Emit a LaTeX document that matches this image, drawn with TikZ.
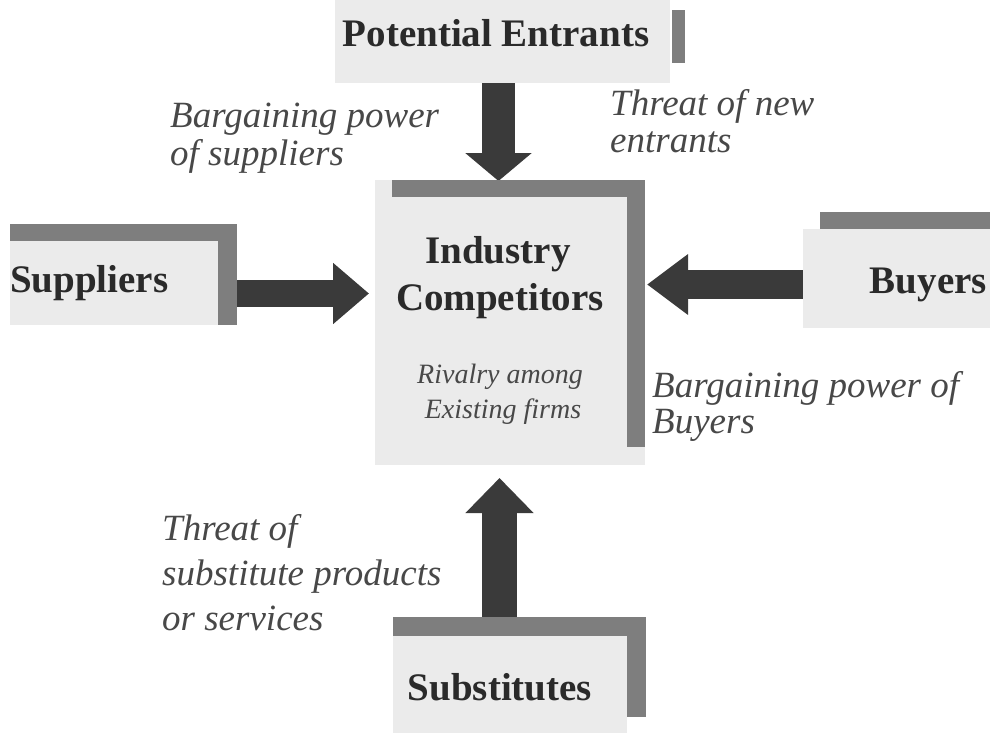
\documentclass[tikz,border=0pt]{standalone}
\usepackage{fontspec}
\setmainfont{Liberation Serif}
\usetikzlibrary{arrows.meta}
\definecolor{boxfill}{HTML}{EBEBEB}
\definecolor{barcol}{HTML}{7E7E7E}
\definecolor{arrcol}{HTML}{3A3A3A}
\definecolor{boldcol}{HTML}{2A2A2A}
\definecolor{labcol}{HTML}{484848}
\tikzset{
  box/.style={fill=boxfill, draw=none, inner sep=0pt},
  bar/.style={fill=barcol, draw=none},
  fatarrow/.style={draw=arrcol, fill=arrcol, line cap=butt},
  boldtxt/.style={font=\fontsize{39pt}{44pt}\selectfont\bfseries, text=boldcol, inner sep=0pt, anchor=base},
  subtxt/.style={font=\fontsize{28pt}{33pt}\selectfont\itshape, text=labcol, inner sep=0pt, anchor=base},
  lab/.style={font=\fontsize{37pt}{#1}\selectfont\itshape, text=labcol, inner sep=0pt, align=left, anchor=base west},
  lab/.default=37pt
}
\begin{document}
\begin{tikzpicture}[x=1pt,y=-1pt]
\useasboundingbox (0,0) rectangle (990,733);
\fill[white] (0,0) rectangle (990,733);

% boxes
\node[box, minimum width=335pt, minimum height=83pt] (pe) at (502.5,41.5) {};
\node[box, minimum width=270pt, minimum height=285pt] (ic) at (510,322.5) {};
\node[box, minimum width=227pt, minimum height=101pt] (sup) at (123.5,274.5) {};
\node[box, minimum width=187pt, minimum height=99pt] (buy) at (896.5,278.5) {};
\node[box, minimum width=234pt, minimum height=97pt] (sub) at (510,684.5) {};

% arrow tips
\coordinate (dtip) at (498.5,181);
\coordinate (rtip) at (369,293.5);
\coordinate (ltip) at (647,284.5);
\coordinate (utip) at (499.5,478);

% arrows
\draw[fatarrow, line width=33pt, -{Triangle[width=65pt,length=28pt]}] (pe.south -| dtip) -- (dtip);
\draw[fatarrow, line width=27pt, -{Triangle[width=59pt,length=36pt]}] (sup.east |- rtip) -- (rtip);
\draw[fatarrow, line width=29pt, -{Triangle[width=58pt,length=41pt]}] (buy.west |- ltip) -- (ltip);
\draw[fatarrow, line width=35pt, -{Triangle[width=66pt,length=35pt]}] (sub.north -| utip) -- (utip);

% bars
\fill[bar] (672,10) rectangle (685,63);
\fill[bar] (392,180) rectangle (645,197);
\fill[bar] (627,180) rectangle (645,447);
\fill[bar] (10,224) rectangle (237,241);
\fill[bar] (218,224) rectangle (237,325);
\fill[bar] (820,212) rectangle (990,229);
\fill[bar] (393,617) rectangle (646,636);
\fill[bar] (627,636) rectangle (646,717);

% box texts
\node[boldtxt] (pet) at (496,47) {Potential Entrants};
\node[boldtxt] (ict1) at (498,263) {Industry};
\node[boldtxt] (ict2) at (500,310) {Competitors};
\node[subtxt] (ics1) at (500,383) {Rivalry among};
\node[subtxt] (ics2) at (503,418) {Existing firms};
\node[boldtxt, anchor=base west] (supt) at (10,292) {Suppliers};
\node[boldtxt, anchor=base east] (buyt) at (987,293) {Buyers};
\node[boldtxt] (subt) at (500,700) {Substitutes};

% force labels (anchor = baseline of last line)
\node[lab=38pt] (l1) at (170,165) {Bargaining power\\of suppliers};
\node[lab=36pt] (l2) at (610,152) {Threat of new\\entrants};
\node[lab=36pt] (l3) at (652,433) {Bargaining power of\\Buyers};
\node[lab=45pt] (l4) at (162,630) {Threat of\\substitute products\\or services};
\end{tikzpicture}
\end{document}
